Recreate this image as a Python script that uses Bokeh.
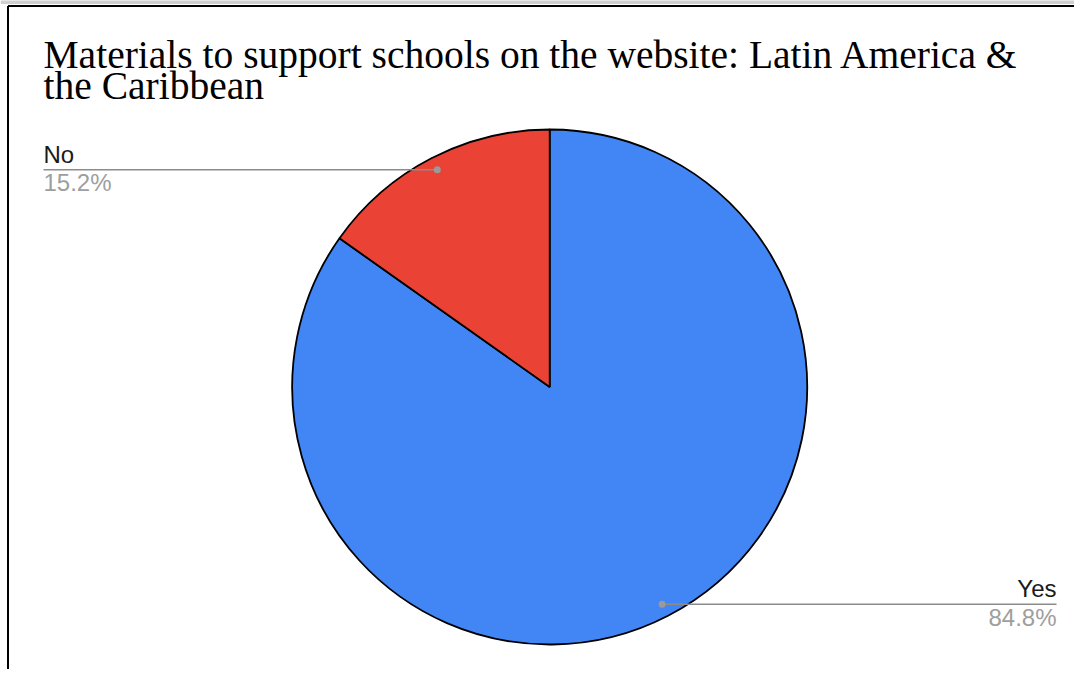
import math
from bokeh.plotting import figure
from bokeh.models import Range1d, ColumnDataSource
from bokeh.core.properties import value
from bokeh.embed import file_html
from bokeh.resources import INLINE

# ---- data ----
categories = ["Yes", "No"]
shares = [84.8, 15.2]
value_labels = ["84.8%", "15.2%"]
colors = ["#4285F4", "#EA4335"]
title_lines = ["Materials to support schools on the website: Latin America &", "the Caribbean"]

W, H = 1074, 669
p = figure(width=W, height=H, output_backend="svg", toolbar_location=None,
           x_range=Range1d(0, W), y_range=Range1d(0, H), min_border=0)
p.axis.visible = False
p.grid.visible = False
p.outline_line_color = None
p.background_fill_color = "white"
p.border_fill_color = "white"

def Y(sy):
    return H - sy

cx, cy, r = 549.2, Y(386.5), 257.5

# wedges: start at 12 o'clock, clockwise
total = sum(shares)
starts, ends, mids = [], [], []
a = 90.0
for s in shares:
    sweep = 360.0 * s / total
    end = a
    start = a - sweep
    starts.append(math.radians(start))
    ends.append(math.radians(end))
    mids.append(math.radians((start + end) / 2))
    a = start

src = ColumnDataSource(dict(start=starts, end=ends, color=colors, cat=categories))
p.wedge(x=cx, y=cy, radius=r, start_angle="start", end_angle="end", fill_color="color",
        line_color="black", line_width=1.8, source=src)

# frame lines (top / left)
p.line([0, W], [Y(1.5), Y(1.5)], line_color="#d0d0d0", line_width=4)
p.line([7.5, 7.5], [Y(H), Y(5.5)], line_color="black", line_width=2)
p.line([7.5, W], [Y(5.5), Y(5.5)], line_color="black", line_width=2)

# title
p.text(x=[43, 43], y=[Y(54), Y(85)], text=title_lines, text_font=value("Liberation Serif"),
       text_font_size="39.5px", text_color="black", text_baseline="alphabetic", text_align="left")

# leader lines & labels
for i, cat in enumerate(categories):
    m = mids[i]
    dx = cx + 0.95 * r * math.cos(m)
    dy = cy + 0.95 * r * math.sin(m)
    if math.cos(m) >= 0:
        ex, align = 1056, "right"
    else:
        ex, align = 43, "left"
    p.line([dx, ex], [dy, dy], line_color="#8c8c8c", line_width=1.3)
    p.scatter([dx], [dy], size=7, fill_color="#9a9a9a", line_color=None)
    p.text(x=[ex], y=[dy + 15.5], text=[cat], text_font=value("Liberation Sans"),
           text_font_size="24px", text_color="#1a1a1a", text_baseline="alphabetic", text_align=align)
    p.text(x=[ex], y=[dy - 13], text=[value_labels[i]], text_font=value("Liberation Sans"),
           text_font_size="24px", text_color="#9e9e9e", text_baseline="alphabetic", text_align=align)

open("out.html", "w").write(file_html(p, INLINE))
